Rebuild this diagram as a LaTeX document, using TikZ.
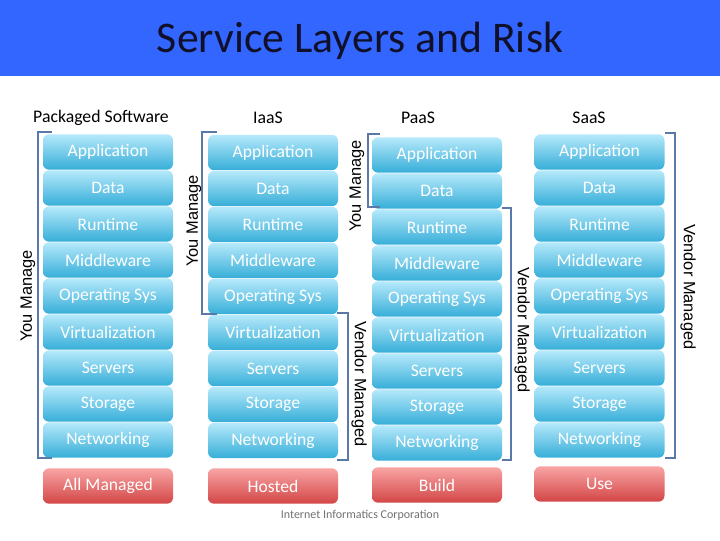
\documentclass[tikz,border=0pt]{standalone}
\usepackage{fontspec}
\setmainfont{Carlito}
\newfontfamily\labelfont{Liberation Sans}
\definecolor{titlebar}{HTML}{3366FF}
\definecolor{titletext}{HTML}{10102A}
\definecolor{boxtop}{HTML}{B6E9FB}
\definecolor{boxbot}{HTML}{36AED8}
\definecolor{redtop}{HTML}{F9A4A4}
\definecolor{redbot}{HTML}{D34646}
\definecolor{brk}{HTML}{5A79AA}
\definecolor{foot}{HTML}{707070}
\tikzset{
  layer/.style={rounded corners=4.5pt, top color=boxtop, bottom color=boxbot,
    minimum width=97.5pt, minimum height=26.5pt, inner sep=0pt, text=white,
    font=\fontsize{13.2}{15}\selectfont},
  result/.style={layer, top color=redtop, bottom color=redbot},
  header/.style={font=\fontsize{13.3}{15}\selectfont, text=black},
  bracket/.style={draw=brk, line width=1.5pt},
  blabel/.style={font=\labelfont\fontsize{12.3}{14}\selectfont, text=black}
}
\begin{document}
\begin{tikzpicture}[x=0.75pt,y=-0.75pt]
\useasboundingbox (0,0) rectangle (720,540);
\fill[titlebar] (0,0) rectangle (720,76);
\node[anchor=base, text=titletext, font=\fontsize{32.8}{36}\selectfont] (title) at (360,52) {Service Layers and Risk};

\node[header] (h1) at (101,118) {Packaged Software};
\node[header] (h2) at (268,118) {IaaS};
\node[header] (h3) at (418,118) {PaaS};
\node[header] (h4) at (589,118) {SaaS};

\foreach \t [count=\i] in {Application,Data,Runtime,Middleware,Operating Sys,Virtualization,Servers,Storage,Networking}{
  \node[layer] (a\i) at ({108},{152+36*(\i-1)}) {\t};
  \node[layer] (b\i) at ({273},{152.5+36*(\i-1)}) {\t};
  \node[layer] (c\i) at ({437},{155+36*(\i-1)}) {\t};
  \node[layer] (d\i) at ({599.5},{152+36*(\i-1)}) {\t};
}

\node[result] (ra) at (108,486) {All Managed};
\node[result] (rb) at (273,486) {Hosted};
\node[result] (rc) at (437,485) {Build};
\node[result] (rd) at (599.5,484) {Use};

% brackets
\coordinate (p1a) at (52,132); \coordinate (p1b) at (38,132);
\coordinate (p1c) at (38,458); \coordinate (p1d) at (52,458);
\draw[bracket] (p1a) -- (p1b) -- (p1c) -- (p1d);
\node[blabel, rotate=90] (l1) at (28,296) {You Manage};

\coordinate (p2a) at (217,132); \coordinate (p2b) at (202,132);
\coordinate (p2c) at (202,314); \coordinate (p2d) at (217,314);
\draw[bracket] (p2a) -- (p2b) -- (p2c) -- (p2d);
\node[blabel, rotate=90] (l2) at (194,221) {You Manage};

\coordinate (p3a) at (337,313); \coordinate (p3b) at (348,313);
\coordinate (p3c) at (348,460); \coordinate (p3d) at (337,460);
\draw[bracket] (p3a) -- (p3b) -- (p3c) -- (p3d);
\node[blabel, rotate=-90] (l3) at (359,384) {Vendor Managed};

\coordinate (p4a) at (380,134); \coordinate (p4b) at (368,134);
\coordinate (p4c) at (368,207); \coordinate (p4d) at (380,207);
\draw[bracket] (p4a) -- (p4b) -- (p4c) -- (p4d);
\node[blabel, rotate=90] (l4) at (357,186) {You Manage};

\coordinate (p5a) at (502,208); \coordinate (p5b) at (511,208);
\coordinate (p5c) at (511,460); \coordinate (p5d) at (502,460);
\draw[bracket] (p5a) -- (p5b) -- (p5c) -- (p5d);
\node[blabel, rotate=-90] (l5) at (522,330) {Vendor Managed};

\coordinate (p6a) at (665,133); \coordinate (p6b) at (675,133);
\coordinate (p6c) at (675,458); \coordinate (p6d) at (665,458);
\draw[bracket] (p6a) -- (p6b) -- (p6c) -- (p6d);
\node[blabel, rotate=-90] (l6) at (688,287) {Vendor Managed};

\node[text=foot, font=\fontsize{9}{11}\selectfont] (foot) at (360,515) {Internet Informatics Corporation};
\end{tikzpicture}
\end{document}
